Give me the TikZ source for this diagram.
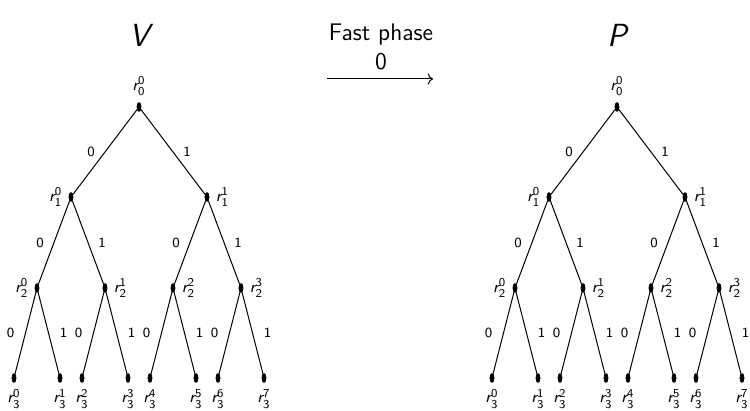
\documentclass[tikz,border=0pt]{standalone}
\usepackage{tikz}
\usetikzlibrary{arrows.meta,positioning,shapes.geometric}

% sans italic r with sans indices
\newcommand{\rv}[2]{$\textsf{\itshape r}^{\mathsf{#2}}_{\mathsf{#1}}$}

\begin{document}
\begin{tikzpicture}[
  x=0.5pt, y=-0.5pt,
  font=\sffamily,
  dot/.style={draw=black, fill=black, ellipse, minimum width=2pt, minimum height=4.4pt, inner sep=0pt},
  lbl/.style={font=\sffamily\fontsize{8}{10}\selectfont, inner sep=1.5pt, label distance=1.5pt},
  edge/.style={draw=black, line width=0.5pt},
  bit/.style={font=\sffamily\fontsize{7}{8}\selectfont, inner sep=0pt},
  title/.style={font=\sffamily\itshape\fontsize{16}{18}\selectfont},
  phase/.style={font=\sffamily\fontsize{12}{14}\selectfont}
]
  \useasboundingbox (0,0) rectangle (750,411);

  % Header: tree names and the phase arrow
  \node[title] (tV) at (139,35) {V};
  \node[title] (tP) at (617,35) {P};
  \node[phase] (fast) at (381,35) {Fast phase};
  \node[phase] (bitF) at (381,62) {0};
  \coordinate (arrS) at (327,79);
  \coordinate (arrE) at (433,79);
  \draw[edge, ->] (arrS) -- (arrE);

  % Two copies of the binary tree
  \foreach \t/\dx in {V/0, P/478} {
    \begin{scope}[xshift=\dx*0.5pt, label distance=1.5pt]
      % level 0
      \node[dot, label={[lbl]above:\rv{0}{0}}] (\t00) at (139,107) {};
      % level 1
      \node[dot, label={[lbl]left:\rv{1}{0}}]  (\t10) at (71,197) {};
      \node[dot, label={[lbl]right:\rv{1}{1}}] (\t11) at (207,197) {};
      % level 2
      \node[dot, label={[lbl]left:\rv{2}{0}}]  (\t20) at (37,288) {};
      \node[dot, label={[lbl]right:\rv{2}{1}}] (\t21) at (105,288) {};
      \node[dot, label={[lbl]right:\rv{2}{2}}] (\t22) at (173,288) {};
      \node[dot, label={[lbl]right:\rv{2}{3}}] (\t23) at (241,288) {};
      % level 3
      \node[dot, label={[lbl]below:\rv{3}{0}}] (\t30) at (14,378) {};
      \node[dot, label={[lbl]below:\rv{3}{1}}] (\t31) at (60,378) {};
      \node[dot, label={[lbl]below:\rv{3}{2}}] (\t32) at (82,378) {};
      \node[dot, label={[lbl]below:\rv{3}{3}}] (\t33) at (128,378) {};
      \node[dot, label={[lbl]below:\rv{3}{4}}] (\t34) at (150,378) {};
      \node[dot, label={[lbl]below:\rv{3}{5}}] (\t35) at (196,378) {};
      \node[dot, label={[lbl]below:\rv{3}{6}}] (\t36) at (218,378) {};
      \node[dot, label={[lbl]below:\rv{3}{7}}] (\t37) at (264,378) {};

      % edges with their bits
      \draw[edge] (\t00) -- (\t10) node[bit, midway, xshift=-7pt] {0};
      \draw[edge] (\t00) -- (\t11) node[bit, midway, xshift=7pt] {1};
      \draw[edge] (\t10) -- (\t20) node[bit, midway, xshift=-7pt] {0};
      \draw[edge] (\t10) -- (\t21) node[bit, midway, xshift=7pt] {1};
      \draw[edge] (\t11) -- (\t22) node[bit, midway, xshift=-7pt] {0};
      \draw[edge] (\t11) -- (\t23) node[bit, midway, xshift=7pt] {1};
      \draw[edge] (\t20) -- (\t30) node[bit, midway, xshift=-7.5pt] {0};
      \draw[edge] (\t20) -- (\t31) node[bit, midway, xshift=7.5pt] {1};
      \draw[edge] (\t21) -- (\t32) node[bit, midway, xshift=-7.5pt] {0};
      \draw[edge] (\t21) -- (\t33) node[bit, midway, xshift=7.5pt] {1};
      \draw[edge] (\t22) -- (\t34) node[bit, midway, xshift=-7.5pt] {0};
      \draw[edge] (\t22) -- (\t35) node[bit, midway, xshift=7.5pt] {1};
      \draw[edge] (\t23) -- (\t36) node[bit, midway, xshift=-7.5pt] {0};
      \draw[edge] (\t23) -- (\t37) node[bit, midway, xshift=7.5pt] {1};
    \end{scope}
  }
\end{tikzpicture}
\end{document}
